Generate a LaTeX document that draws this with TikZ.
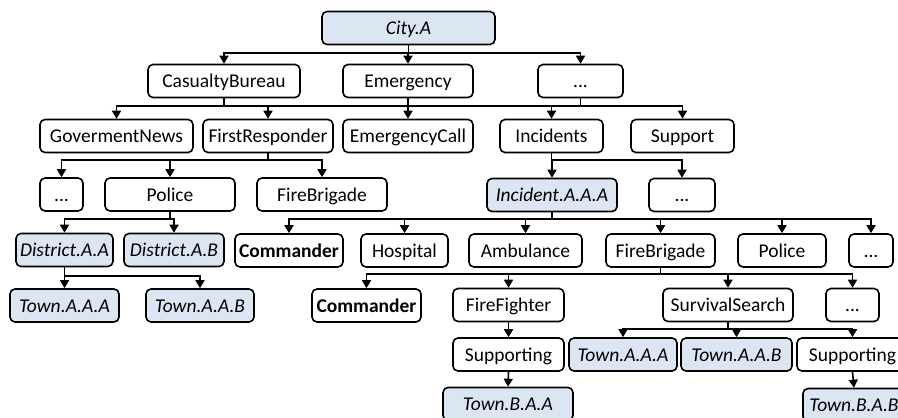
\documentclass[tikz,border=0pt]{standalone}
\usepackage{fontspec}
\setmainfont{Carlito}
\usetikzlibrary{arrows.meta}
\definecolor{boxblue}{HTML}{DCE6F2}
\tikzset{
  unit/.style={draw=black, line width=1.6pt, rounded corners=5pt, inner sep=0pt,
    minimum height=33pt, text height=13pt, text depth=0pt,
    font=\fontsize{19.5}{22}\selectfont, fill=white},
  inst/.style={unit, fill=boxblue, font=\fontsize{19.5}{22}\selectfont\itshape},
  lead/.style={unit, font=\fontsize{19.5}{22}\selectfont\bfseries},
  link/.style={line width=1.6pt, -{Triangle[length=8pt,width=9pt]}},
  bus/.style={line width=1.6pt}
}
\begin{document}
\begin{tikzpicture}[x=1pt,y=-1pt]
\useasboundingbox (0,0) rectangle (898,418);
% bus levels
\coordinate (b1) at (0,53);
\coordinate (b2) at (0,106);
\coordinate (b3) at (0,160);
\coordinate (b4) at (0,219);
\coordinate (b5) at (0,276);
\coordinate (b5r) at (0,274);
\coordinate (b6) at (0,329);

% level 1
\node[inst, minimum width=173pt] (city) at (408.5,28) {City.A};
% level 2
\node[unit, minimum width=152pt] (cb) at (224,81) {CasualtyBureau};
\node[unit, minimum width=130pt] (em) at (408,81) {Emergency};
\node[unit, minimum width=85pt]  (d1) at (580.5,81) {...};
% level 3
\node[unit, minimum width=153pt] (gn)  at (116.5,136) {GovermentNews};
\node[unit, minimum width=130pt] (fr)  at (268,136) {FirstResponder};
\node[unit, minimum width=130pt] (ec)  at (408,136) {EmergencyCall};
\node[unit, minimum width=103pt] (inc) at (551.5,136) {Incidents};
\node[unit, minimum width=103pt] (sup) at (682.5,136) {Support};
% level 4
\node[unit, minimum width=43pt]  (d2)   at (61.5,194.5) {...};
\node[unit, minimum width=130pt] (pol)  at (170,194.5) {Police};
\node[unit, minimum width=130pt] (fb)   at (322,194.5) {FireBrigade};
\node[inst, minimum width=130pt] (iaaa) at (552,195) {Incident.A.A.A};
\node[unit, minimum width=66pt]  (d3)   at (682,195) {...};
% level 5
\node[inst, minimum width=97pt]  (daa)  at (64.5,250) {District.A.A};
\node[inst, minimum width=100pt] (dab)  at (174,250) {District.A.B};
\node[lead, minimum width=108pt] (cmd1) at (289,250.5) {Commander};
\node[unit, minimum width=87pt]  (hos)  at (404.5,250.5) {Hospital};
\node[unit, minimum width=113pt] (amb)  at (525.5,250.5) {Ambulance};
\node[unit, minimum width=109pt] (fb2)  at (660.5,250.5) {FireBrigade};
\node[unit, minimum width=88pt]  (pol2) at (782,250.5) {Police};
\node[unit, minimum width=44pt]  (d4)   at (871,250.5) {...};
% level 6
\node[inst, minimum width=109pt] (taaa) at (64.5,305.5) {Town.A.A.A};
\node[inst, minimum width=108pt] (taab) at (200,305.5) {Town.A.A.B};
\node[lead, minimum width=109pt] (cmd2) at (366.5,305.5) {Commander};
\node[unit, minimum width=111pt] (ff)   at (508.5,305) {FireFighter};
\node[unit, minimum width=130pt] (ss)   at (728,305) {SurvivalSearch};
\node[unit, minimum width=53pt]  (d5)   at (852.5,305) {...};
% level 7
\node[unit, minimum width=111pt] (sp1)   at (508.5,354.5) {Supporting};
\node[inst, minimum width=108pt] (taaa2) at (623,354.5) {Town.A.A.A};
\node[inst, minimum width=111pt] (taab2) at (736.5,354.5) {Town.A.A.B};
\node[unit, minimum width=111pt] (sp2)   at (852.5,354.5) {Supporting};
% level 8
\node[inst, minimum width=130pt] (tbaa) at (508,404) {Town.B.A.A};
\node[inst, minimum width=102pt] (tbab) at (854,405) {Town.B.A.B};

% connectors
\foreach \c in {cb,em,d1} \draw[link] (city.south) |- (city.south |- b1) -| (\c.north);
\draw[bus] (gn.north |- b2) -- (sup.north |- b2);
\foreach \c in {gn,fr} \draw[link] (cb.south) -- (cb.south |- b2) -| (\c.north);
\draw[link] (em.south) -- (ec.north);
\foreach \c in {inc,sup} \draw[link] (d1.south) -- (d1.south |- b2) -| (\c.north);
\foreach \c in {d2,pol,fb} \draw[link] (fr.south) -- (fr.south |- b3) -| (\c.north);
\foreach \c in {iaaa,d3} \draw[link] (inc.south) -- (inc.south |- b3) -| (\c.north);
\foreach \c in {daa,dab} \draw[link] (pol.south) -- (pol.south |- b4) -| (\c.north);
\foreach \c in {cmd1,hos,amb,fb2,pol2,d4} \draw[link] (iaaa.south) -- (iaaa.south |- b4) -| (\c.north);
\foreach \c in {taaa,taab} \draw[link] (daa.south) -- (daa.south |- b5) -| (\c.north);
\foreach \c in {cmd2,ff,ss,d5} \draw[link] (fb2.south) -- (fb2.south |- b5r) -| (\c.north);
\draw[link] (ff.south) -- (sp1.north);
\foreach \c in {taaa2,taab2,sp2} \draw[link] (ss.south) -- (ss.south |- b6) -| (\c.north);
\draw[link] (sp1.south) -- (tbaa.north);
\draw[link] (sp2.south) -- (tbab.north);
\end{tikzpicture}
\end{document}
